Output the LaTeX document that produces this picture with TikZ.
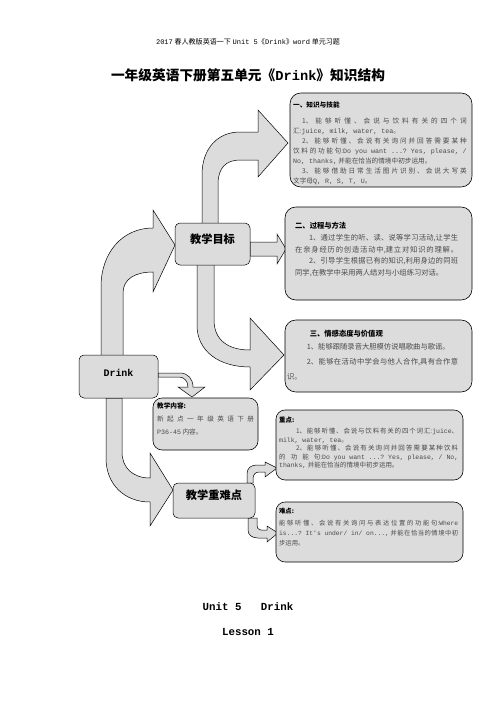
\documentclass[tikz,border=0pt]{standalone}
\usepackage{fontspec}
\usetikzlibrary{fit}
\setmonofont{Liberation Mono}
\newfontfamily\cjk{Noto Sans CJK SC}
\definecolor{boxfill}{HTML}{DCDCDC}
\definecolor{bodytext}{HTML}{4A4A4A}
% stretchable glue between CJK characters, so justified lines spread out
\XeTeXinterchartokenstate=1
\newXeTeXintercharclass\cjkclass
\count255="3000
\loop\XeTeXcharclass\count255=\cjkclass
\ifnum\count255<"9FFF \advance\count255 by 1 \repeat
\count255="FF00
\loop\XeTeXcharclass\count255=\cjkclass
\ifnum\count255<"FFEF \advance\count255 by 1 \repeat
\XeTeXinterchartoks\cjkclass\cjkclass={\hskip0pt plus 0.3em\relax}
\newcommand{\ltn}[1]{{\ttfamily #1}}
\tikzset{
  infobox/.style={draw, fill=boxfill, rounded corners=13pt, line width=0.7pt, inner sep=0pt},
  notebox/.style={infobox, rounded corners=11pt},
  hubbox/.style={draw, fill=boxfill, rounded corners=6pt, line width=0.6pt, inner sep=0pt},
  boxtext/.style={anchor=north west, inner sep=0pt, align=justify, text=bodytext},
  blockarrow/.style={draw, fill=boxfill, line width=0.6pt},
}

\begin{document}
\begin{tikzpicture}[x=0.042339cm, y=-0.042339cm]
  \useasboundingbox (0,0) rectangle (496,702);

  % page header and title
  \node[font=\fontsize{8.5}{10}\selectfont\cjk] (header) at (248,42)
    {\ltn{2017} 春人教版英语一下 \ltn{Unit 5}《\ltn{Drink}》\ltn{word} 单元习题};
  \node[font=\fontsize{16.5}{20}\selectfont\cjk\bfseries] (title) at (248,75)
    {一年级英语下册第五单元《\ltn{Drink}》知识结构};

  % block arrows
  \draw[blockarrow] (101,356) -- (101,287) .. controls (101,253) and (122,228) .. (153,228)
    -- (153,210) -- (175,245) -- (153,292) -- (153,272)
    .. controls (135,272) and (123,279) .. (123,293) -- (123,356) -- cycle;
  \draw[blockarrow] (202,224) -- (202,175) .. controls (202,148) and (218,132) .. (240,132)
    -- (258,132) -- (258,110) -- (288,143) -- (258,177) -- (258,160) -- (240,160)
    .. controls (226,160) and (218,168) .. (218,184) -- (218,224) -- cycle;
  \draw[blockarrow] (250,242) -- (277,242) -- (277,234) -- (286,249) -- (277,264)
    -- (277,256) -- (250,256) -- cycle;
  \draw[blockarrow] (197,264) -- (197,325) .. controls (197,352) and (220,367) .. (250,367)
    -- (250,390) -- (284,355) -- (250,318) -- (250,350)
    .. controls (228,350) and (214,340) .. (214,320) -- (214,264) -- cycle;
  \draw[blockarrow] (158,373) -- (180,373) .. controls (188,373) and (193,379) .. (193,387)
    -- (205,387) -- (192,397) -- (178,387) -- (188,387)
    .. controls (188,381) and (184,377) .. (179,377) -- (158,377) -- cycle;
  \draw[blockarrow] (106,398) -- (106,458) .. controls (106,485) and (125,502) .. (150,502)
    -- (150,526) -- (173,490) -- (150,453) -- (150,478)
    .. controls (133,478) and (122,468) .. (122,452) -- (122,398) -- cycle;
  \draw[blockarrow] (247,483) -- (247,474) .. controls (247,468) and (251,465) .. (257,465)
    -- (265,465) -- (265,462) -- (277,468) -- (265,477) -- (265,472) -- (259,472)
    .. controls (255,472) and (253,475) .. (253,479) -- (253,483) -- cycle;
  \draw[blockarrow] (248,518) -- (248,530) .. controls (248,535) and (252,538) .. (258,538)
    -- (267,538) -- (267,542) -- (278,533) -- (267,526) -- (267,530) -- (261,530)
    .. controls (258,530) and (257,528) .. (257,525) -- (257,518) -- cycle;

  % hub boxes
  \node[hubbox, fit={(79,355) (158,398)}, font=\fontsize{12}{14}\selectfont\ttfamily\bfseries] (drink) {Drink};
  \node[hubbox, fit={(175,223) (250,265)}, font=\fontsize{13.5}{16}\selectfont\cjk\bfseries] (goal) {教学目标};
  \node[hubbox, fit={(173,483) (255,518)}, font=\fontsize{13.5}{16}\selectfont\cjk\bfseries] (keypoints) {教学重难点};

  % info boxes
  \node[infobox, fit={(290,93) (472,187)}] (skills) {};
  \node[infobox, fit={(285,207) (472,300)}] (process) {};
  \node[infobox, fit={(285,320) (472,392)}] (attitude) {};
  \node[notebox, fit={(153,398) (258,450)}] (content) {};
  \node[notebox, fit={(276,410) (463,480)}] (focus) {};
  \node[notebox, fit={(276,502) (463,562)}] (difficulty) {};

  \node[boxtext, text width=7.35cm, font=\fontsize{8}{12.1}\selectfont\cjk] (skillstext) at (293,102) {%
    {\color{black}\bfseries 一、知识与技能}\\[6.8pt]%
    \hspace*{1.35em}1、能够听懂、会说与饮料有关的四个词\linebreak
    汇:\ltn{juice, milk, water, tea}。\\
    \hspace*{1.35em}2、能够听懂、会说有关询问并回答需要某种\linebreak
    饮料的功能句:\ltn{Do you want ...? Yes, please, /}\linebreak
    \ltn{No, thanks,}\ 并能在恰当的情境中初步运用。\\
    \hspace*{1.35em}3、能够借助日常生活图片识别、会说大写英\linebreak
    文字母\ltn{Q, R, S, T, U}。};
  \node[boxtext, text width=6.9cm, font=\fontsize{8.8}{13.8}\selectfont\cjk] (processtext) at (295,222) {%
    {\color{black}\bfseries 二、过程与方法}\\[1.2pt]%
    \hspace*{1.9em}1、通过学生的听、读、说等学习活动,让学生\linebreak
    在亲身经历的创造活动中,建立对知识的理解。\linebreak
    \hspace*{1.9em}2、引导学生根据已有的知识,利用身边的同班\linebreak
    同学,在教学中采用两人结对与小组练习对话。};
  \node[boxtext, text width=7.24cm, font=\fontsize{8.8}{18}\selectfont\cjk] (attitudetext) at (287,330) {%
    \hspace*{3.1em}{\color{black}\bfseries 三、情感态度与价值观}\\[-2pt]%
    \hspace*{2.7em}1、能够跟随录音大胆模仿说唱歌曲与歌谣。\\
    \hspace*{2.7em}2、能够在活动中学会与他人合作,具有合作意\linebreak
    识。};
  \node[boxtext, text width=4.1cm, font=\fontsize{8}{16}\selectfont\cjk] (contenttext) at (157,403) {%
    {\color{black}\bfseries 教学内容:}\\[-1.2pt]%
    新起点一年级英语下册\linebreak
    \ltn{P36-45} 内容。};
  \node[boxtext, text width=7.58cm, font=\fontsize{7.8}{10.3}\selectfont\cjk] (focustext) at (279,417) {%
    {\color{black}\bfseries 重点:}\\[2.9pt]%
    \hspace*{2.6em}1、能够听懂、会说与饮料有关的四个词汇:\ltn{juice}、\linebreak
    \ltn{milk, water, tea}。\\
    \hspace*{2.6em}2、能够听懂、会说有关询问并回答需要某种饮料\linebreak
    的功能句:\ltn{Do you want ...? Yes, please, / No,}\linebreak
    \ltn{thanks,}\ 并能在恰当的情境中初步运用。};
  \node[boxtext, text width=7.58cm, font=\fontsize{7.6}{12}\selectfont\cjk] (difficultytext) at (279,508) {%
    {\color{black}\bfseries 难点:}\\[2pt]%
    能够听懂、会说有关询问与表达位置的功能句:\ltn{Where}\linebreak
    \ltn{is...? It's under/ in/ on...,} 并能在恰当的情境中初\linebreak
    步运用。};

  % lesson line
  \node[font=\fontsize{13}{15}\selectfont\ttfamily\bfseries] (unit) at (248,607) {Unit 5\ \ \ Drink};
  \node[font=\fontsize{13}{15}\selectfont\ttfamily\bfseries] (lesson) at (248,632) {Lesson 1};
\end{tikzpicture}
\end{document}
